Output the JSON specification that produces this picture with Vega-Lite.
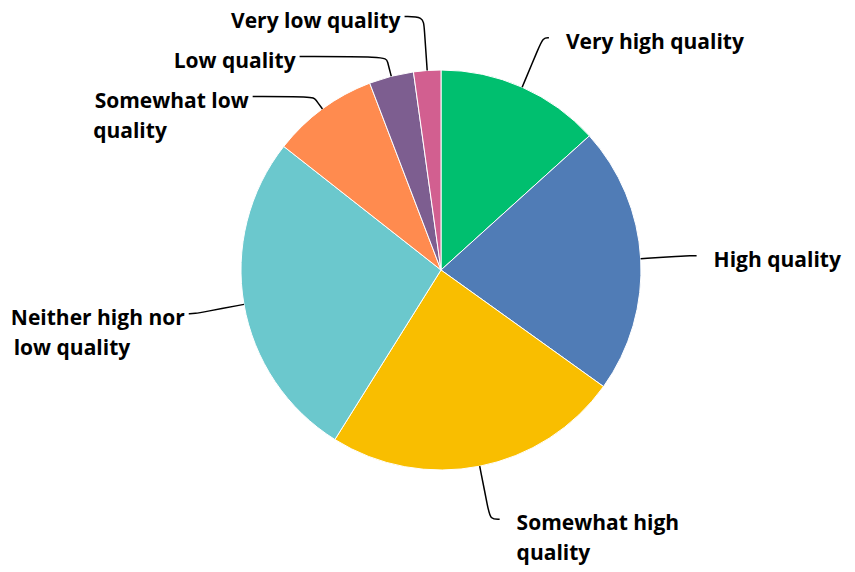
{
  "$schema": "https://vega.github.io/schema/vega-lite/v6.json",
  "width": 828,
  "height": 540,
  "autosize": "none",
  "padding": {"left": 27, "top": 0, "right": 0, "bottom": 32},
  "background": "white",
  "config": {"view": {"stroke": null}},
  "data": {
    "values": [
      {"quality": "Very high quality", "label": "Very high quality", "percent": 13.3},
      {"quality": "High quality", "label": "High quality", "percent": 21.6},
      {"quality": "Somewhat high quality", "label": "Somewhat high\nquality", "percent": 24.0},
      {"quality": "Neither high nor low quality", "label": "Neither high nor\nlow quality\u00a0\u00a0\u00a0\u00a0\u00a0\u00a0\u00a0\u00a0\u00a0\u00a0\u200b", "percent": 26.7},
      {"quality": "Somewhat low quality", "label": "Somewhat low\nquality\u00a0\u00a0\u00a0\u00a0\u00a0\u00a0\u00a0\u00a0\u00a0\u00a0\u00a0\u00a0\u00a0\u00a0\u00a0\u200b", "percent": 8.6},
      {"quality": "Low quality", "label": "Low quality", "percent": 3.6},
      {"quality": "Very low quality", "label": "Very low quality", "percent": 2.2}
    ]
  },
  "transform": [
    {"window": [{"op": "sum", "field": "percent", "as": "cum"}], "frame": [null, 0]},
    {"calculate": "datum.cum - datum.percent", "as": "start"},
    {"calculate": "(datum.start + datum.percent / 2) / 100 * 2 * PI", "as": "mid"},
    {"calculate": "datum.mid < PI ? 1 : -1", "as": "side"},
    {"calculate": "200 * sin(datum.mid)", "as": "ex"},
    {"calculate": "200 * cos(datum.mid)", "as": "ey"},
    {"calculate": "-254 * cos(datum.mid)", "as": "nd"},
    {"window": [{"op": "row_number", "as": "i"}], "groupby": ["side"], "sort": [{"field": "nd", "order": "ascending"}]},
    {"calculate": "datum.nd - 40 * datum.i", "as": "v"},
    {"window": [{"op": "max", "field": "v", "as": "cm"}], "groupby": ["side"], "sort": [{"field": "nd", "order": "ascending"}], "frame": [null, 0]},
    {"calculate": "-(datum.cm + 40 * datum.i)", "as": "ly"},
    {"calculate": "datum.side * max(sqrt(max(256 * 256 - datum.ly * datum.ly, 0)), abs(datum.ex) + 12)", "as": "ax"},
    {"calculate": "datum.side > 0 ? clamp(datum.ly * tan(datum.mid), datum.ex, datum.ax - 6) : clamp(datum.ly * tan(datum.mid), datum.ax + 6, datum.ex)", "as": "bx"}
  ],
  "layer": [
    {
      "mark": {"type": "arc", "outerRadius": 200, "stroke": "white", "strokeWidth": 1},
      "encoding": {
        "theta": {"field": "start", "type": "quantitative", "stack": null, "scale": {"domain": [0, 100]}},
        "theta2": {"field": "cum"},
        "color": {
          "field": "quality",
          "type": "nominal",
          "scale": {
            "domain": ["Very high quality", "High quality", "Somewhat high quality", "Neither high nor low quality", "Somewhat low quality", "Low quality", "Very low quality"],
            "range": ["#00BF6F", "#507CB6", "#F9BE00", "#6BC8CD", "#FF8B4F", "#7D5E90", "#D25F90"]
          },
          "legend": null
        }
      }
    },
    {
      "transform": [
        {"calculate": "[0, 1, 2, 3]", "as": "pts"},
        {"flatten": ["pts"]},
        {"calculate": "datum.pts == 0 ? datum.ex : datum.pts == 1 ? datum.ex + 0.8 * (datum.bx - datum.ex) : datum.pts == 2 ? datum.bx : datum.ax", "as": "px"},
        {"calculate": "datum.pts == 0 ? datum.ey : datum.pts == 1 ? datum.ey + 0.8 * (datum.ly - datum.ey) : datum.ly", "as": "py"}
      ],
      "mark": {"type": "line", "color": "black", "strokeWidth": 1.5, "interpolate": "basis"},
      "encoding": {
        "x": {"field": "px", "type": "quantitative", "scale": {"domain": [-414, 414], "nice": false, "zero": false}, "axis": null},
        "y": {"field": "py", "type": "quantitative", "scale": {"domain": [-270, 270], "nice": false, "zero": false}, "axis": null},
        "detail": {"field": "quality"},
        "order": {"field": "pts"}
      }
    },
    {
      "transform": [{"filter": "datum.side > 0"}],
      "mark": {"type": "text", "align": "left", "baseline": "alphabetic", "dx": 17, "dy": 11, "font": "Open Sans", "fontWeight": 700, "fontSize": 21, "lineBreak": "\n", "lineHeight": 30, "color": "black"},
      "encoding": {
        "x": {"field": "ax", "type": "quantitative", "scale": {"domain": [-414, 414], "nice": false, "zero": false}, "axis": null},
        "y": {"field": "ly", "type": "quantitative", "scale": {"domain": [-270, 270], "nice": false, "zero": false}, "axis": null},
        "text": {"field": "label"}
      }
    },
    {
      "transform": [{"filter": "datum.side < 0"}],
      "mark": {"type": "text", "align": "right", "baseline": "alphabetic", "dx": -4, "dy": 11, "font": "Open Sans", "fontWeight": 700, "fontSize": 21, "lineBreak": "\n", "lineHeight": 30, "color": "black"},
      "encoding": {
        "x": {"field": "ax", "type": "quantitative", "scale": {"domain": [-414, 414], "nice": false, "zero": false}, "axis": null},
        "y": {"field": "ly", "type": "quantitative", "scale": {"domain": [-270, 270], "nice": false, "zero": false}, "axis": null},
        "text": {"field": "label"}
      }
    }
  ]
}
